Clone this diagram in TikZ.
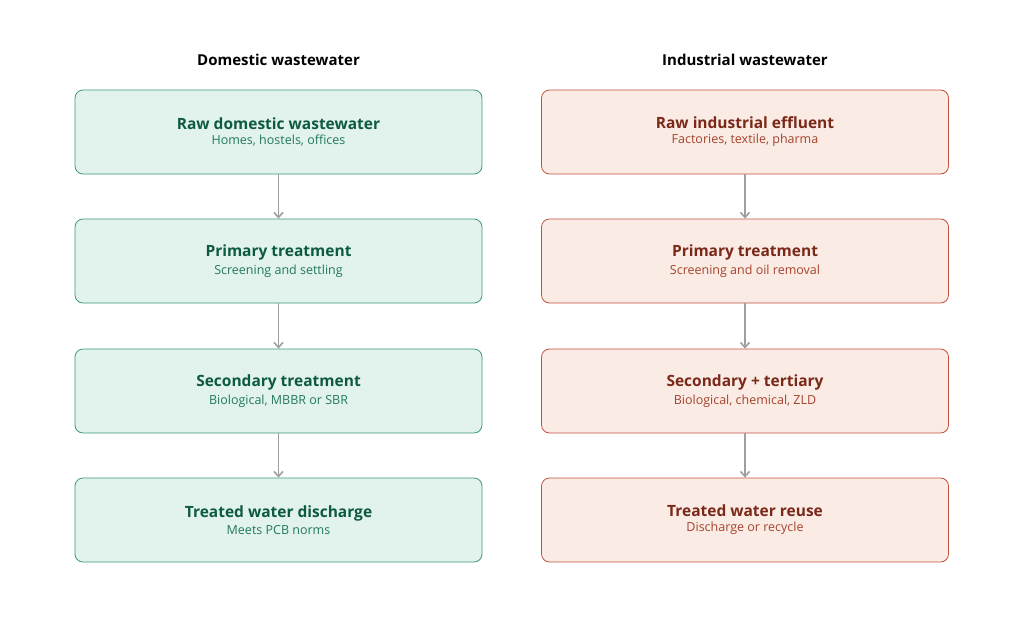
\documentclass[tikz,border=0pt]{standalone}
\usepackage{fontspec}
\setmainfont{Open Sans}
\usetikzlibrary{arrows.meta,positioning}
\definecolor{domfill}{HTML}{E1F3EC}
\definecolor{domline}{HTML}{3C9A74}
\definecolor{domhead}{HTML}{0E5A40}
\definecolor{domsub}{HTML}{23795A}
\definecolor{indfill}{HTML}{FBEBE5}
\definecolor{indline}{HTML}{C2513E}
\definecolor{indhead}{HTML}{7A2818}
\definecolor{indsub}{HTML}{A5432C}
\begin{document}
\begin{tikzpicture}[x=1pt,y=-1pt]
	\tikzstyle{Box}	= [rounded corners=8pt, minimum width=407pt, minimum height=84pt, inner sep=0pt, align=center, line width=0.8pt]
	\tikzstyle{Dom}	= [Box, draw=domline, fill=domfill]
	\tikzstyle{Ind}	= [Box, draw=indline, fill=indfill]
	\tikzstyle{Title}	= [font=\fontsize{15}{18}\selectfont\bfseries]
	\tikzstyle{Flow}	= [-{Straight Barb[length=5pt,width=9pt]}, line width=1.6pt, gray!75]
	\newcommand{\dtext}[2]{{\fontsize{15.5}{20}\selectfont\bfseries\color{domhead}#1}\\[3pt]{\fontsize{12.5}{15}\selectfont\color{domsub}#2}}
	\newcommand{\itext}[2]{{\fontsize{15.5}{20}\selectfont\bfseries\color{indhead}#1}\\[3pt]{\fontsize{12.5}{15}\selectfont\color{indsub}#2}}

	\useasboundingbox (0,0) rectangle (1024,632);

	\node (tD) at (278.5,60) [Title] {Domestic wastewater};
	\node (tI) at (745,60) [Title] {Industrial wastewater};

	\node (d1) at (278.5,132) [Dom] {\dtext{Raw domestic wastewater}{Homes, hostels, offices}};
	\node (d2) at (278.5,261) [Dom] {\dtext{Primary treatment}{Screening and settling}};
	\node (d3) at (278.5,391) [Dom] {\dtext{Secondary treatment}{Biological, MBBR or SBR}};
	\node (d4) at (278.5,520) [Dom] {\dtext{Treated water discharge}{Meets PCB norms}};

	\node (i1) at (745,132) [Ind] {\itext{Raw industrial effluent}{Factories, textile, pharma}};
	\node (i2) at (745,261) [Ind] {\itext{Primary treatment}{Screening and oil removal}};
	\node (i3) at (745,391) [Ind] {\itext{Secondary + tertiary}{Biological, chemical, ZLD}};
	\node (i4) at (745,520) [Ind] {\itext{Treated water reuse}{Discharge or recycle}};

	\draw [Flow] (d1) to (d2);
	\draw [Flow] (d2) to (d3);
	\draw [Flow] (d3) to (d4);
	\draw [Flow] (i1) to (i2);
	\draw [Flow] (i2) to (i3);
	\draw [Flow] (i3) to (i4);
\end{tikzpicture}
\end{document}
